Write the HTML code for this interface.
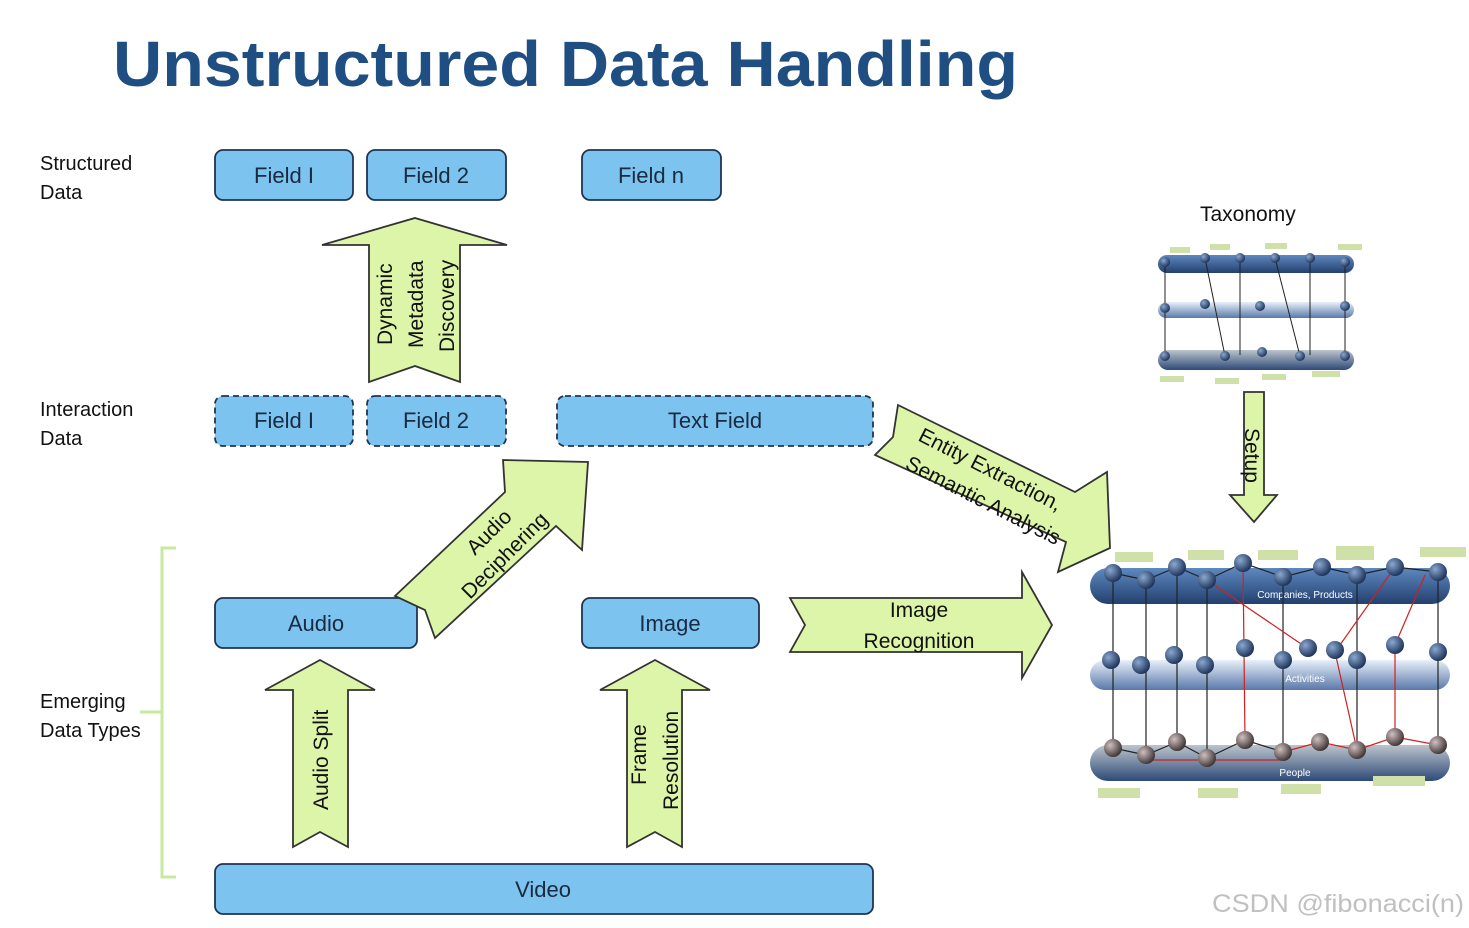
<!DOCTYPE html>
<html><head><meta charset="utf-8"><style>
html,body{margin:0;padding:0;background:#fff}
svg{display:block}
text{font-family:"Liberation Sans",sans-serif}
</style></head><body>
<svg width="1469" height="928" viewBox="0 0 1469 928" xmlns="http://www.w3.org/2000/svg">
<defs>
<linearGradient id="disk" x1="0" y1="0" x2="0" y2="1"><stop offset="0" stop-color="#5e88c0"/><stop offset="1" stop-color="#23406e"/></linearGradient>
<linearGradient id="disk2" x1="0" y1="0" x2="0" y2="1"><stop offset="0" stop-color="#e8f0fa"/><stop offset="1" stop-color="#5a78a8"/></linearGradient>
<linearGradient id="disk3" x1="0" y1="0" x2="0" y2="1"><stop offset="0" stop-color="#bcc4cc"/><stop offset="1" stop-color="#2e4a78"/></linearGradient>
<radialGradient id="ball" cx="0.35" cy="0.35" r="0.7"><stop offset="0" stop-color="#8aa8d0"/><stop offset="1" stop-color="#1a2f55"/></radialGradient>
<radialGradient id="ballr" cx="0.35" cy="0.35" r="0.7"><stop offset="0" stop-color="#d0c0c0"/><stop offset="1" stop-color="#3a3030"/></radialGradient>
</defs>

<text x="113" y="86" font-size="64" font-weight="bold" fill="#1f4e82" textLength="905" lengthAdjust="spacingAndGlyphs">Unstructured Data Handling</text>

<g font-size="20" fill="#111">
<text x="40" y="170">Structured</text><text x="40" y="199">Data</text>
<text x="40" y="416">Interaction</text><text x="40" y="445">Data</text>
<text x="40" y="708">Emerging</text><text x="40" y="737">Data Types</text>
</g>
<path d="M176 548 H162 V877 H176 M162 712 H140" fill="none" stroke="#c8eaa0" stroke-width="3"/>

<g fill="#7cc3ef" stroke="#1f3550" stroke-width="1.8">
<rect x="215" y="150" width="138" height="50" rx="8"/>
<rect x="367" y="150" width="139" height="50" rx="8"/>
<rect x="582" y="150" width="139" height="50" rx="8"/>
<rect x="215" y="598" width="202" height="50" rx="8"/>
<rect x="582" y="598" width="177" height="50" rx="8"/>
<rect x="215" y="864" width="658" height="50" rx="8"/>
<g stroke-dasharray="6,4">
<rect x="215" y="396" width="138" height="50" rx="8"/>
<rect x="367" y="396" width="139" height="50" rx="8"/>
<rect x="557" y="396" width="316" height="50" rx="8"/>
</g></g>
<g font-size="22" fill="#1a2a40" text-anchor="middle">
<text x="284" y="183">Field I</text><text x="436" y="183">Field 2</text><text x="651" y="183">Field n</text>
<text x="284" y="428">Field I</text><text x="436" y="428">Field 2</text><text x="715" y="428">Text Field</text>
<text x="316" y="631">Audio</text><text x="670" y="631">Image</text><text x="543" y="897">Video</text>
</g>

<g fill="#ddf5a8" stroke="#333" stroke-width="1.8">
<polygon points="415,218 507,245 460,245 460,382 415,366 369,382 369,245 322,245"/>
<polygon points="320,660 375,690 348,690 348,847 320,832 293,847 293,690 265,690"/>
<polygon points="655,660 710,690 682,690 682,847 655,832 627,847 627,690 600,690"/>
<polygon points="395,596 505,492 503,460 588,462 582,550 556,526 435,638 425,610"/>
<polygon points="898,405 1075,492 1107,472 1110,548 1058,572 1066,542 875,455 893,437"/>
<polygon points="790,598 1022,598 1022,572 1052,625 1022,678 1022,652 790,652 805,625"/>
<polygon points="1244,392 1264,392 1264,495 1277,495 1254,522 1230,495 1244,495"/>
</g>
<g font-size="21" fill="#111">
<text transform="translate(392,345) rotate(-90)">Dynamic</text>
<text transform="translate(423,348) rotate(-90)">Metadata</text>
<text transform="translate(454,352) rotate(-90)">Discovery</text>
<text transform="translate(328,810) rotate(-90)">Audio Split</text>
<text transform="translate(646,785) rotate(-90)">Frame</text>
<text transform="translate(678,810) rotate(-90)">Resolution</text>
<text transform="translate(475,556) rotate(-45)">Audio</text>
<text transform="translate(470,600) rotate(-45)">Deciphering</text>
<text transform="translate(917,440) rotate(27)">Entity Extraction,</text>
<text transform="translate(904,468) rotate(27)">Semantic Analysis</text>
<text x="919" y="617" text-anchor="middle">Image</text>
<text x="919" y="648" text-anchor="middle">Recognition</text>
<text transform="translate(1245,428) rotate(90)">Setup</text>
<text x="1200" y="221">Taxonomy</text>
</g>

<g>
<rect x="1158" y="255" width="196" height="18" rx="9" fill="url(#disk)"/>
<rect x="1158" y="302" width="196" height="16" rx="8" fill="url(#disk2)"/>
<rect x="1158" y="350" width="196" height="20" rx="10" fill="url(#disk3)"/>
<g stroke="#222" stroke-width="1">
<line x1="1165" y1="262" x2="1165" y2="358"/><line x1="1205" y1="258" x2="1225" y2="356"/><line x1="1240" y1="258" x2="1240" y2="355"/><line x1="1275" y1="258" x2="1300" y2="356"/><line x1="1310" y1="258" x2="1310" y2="355"/><line x1="1345" y1="262" x2="1345" y2="356"/>
</g>
<g fill="url(#ball)">
<circle cx="1165" cy="262" r="5"/><circle cx="1205" cy="258" r="5"/><circle cx="1240" cy="258" r="5"/><circle cx="1275" cy="258" r="5"/><circle cx="1310" cy="258" r="5"/><circle cx="1345" cy="262" r="5"/>
<circle cx="1165" cy="308" r="5"/><circle cx="1205" cy="304" r="5"/><circle cx="1260" cy="306" r="5"/><circle cx="1345" cy="306" r="5"/>
<circle cx="1165" cy="356" r="5"/><circle cx="1225" cy="356" r="5"/><circle cx="1262" cy="352" r="5"/><circle cx="1300" cy="356" r="5"/><circle cx="1345" cy="356" r="5"/>
</g>
<g fill="#cfe0a8"><rect x="1170" y="247" width="20" height="6"/><rect x="1210" y="244" width="20" height="6"/><rect x="1265" y="243" width="22" height="6"/><rect x="1338" y="244" width="24" height="6"/><rect x="1160" y="376" width="24" height="6"/><rect x="1215" y="378" width="24" height="6"/><rect x="1262" y="374" width="24" height="6"/><rect x="1312" y="371" width="28" height="6"/></g>
</g>

<g>
<rect x="1090" y="568" width="360" height="36" rx="18" fill="url(#disk)"/>
<rect x="1090" y="660" width="360" height="30" rx="15" fill="url(#disk2)"/>
<rect x="1090" y="745" width="360" height="36" rx="18" fill="url(#disk3)"/>
<text x="1305" y="598" font-size="10" fill="#fff" text-anchor="middle">Companies, Products</text>
<text x="1305" y="682" font-size="10" fill="#fff" text-anchor="middle">Activities</text>
<text x="1295" y="776" font-size="10" fill="#fff" text-anchor="middle">People</text>
<g stroke="#222" stroke-width="1.2" fill="none">
<polyline points="1113,573 1146,580 1177,567 1207,580 1243,563 1283,577 1322,567 1357,575 1395,567 1438,572"/>
<line x1="1113" y1="573" x2="1113" y2="748"/><line x1="1146" y1="580" x2="1146" y2="755"/><line x1="1177" y1="567" x2="1177" y2="742"/><line x1="1207" y1="580" x2="1207" y2="758"/><line x1="1283" y1="577" x2="1283" y2="752"/><line x1="1357" y1="575" x2="1357" y2="750"/><line x1="1438" y1="572" x2="1438" y2="745"/>
<polyline points="1113,748 1146,755 1177,742 1207,758 1245,740 1283,752"/>
</g>
<g stroke="#d02020" stroke-width="1.2" fill="none">
<line x1="1243" y1="563" x2="1245" y2="740"/><line x1="1207" y1="580" x2="1310" y2="650"/><line x1="1395" y1="567" x2="1335" y2="652"/><line x1="1425" y1="575" x2="1395" y2="645"/>
<polyline points="1283,752 1320,742 1357,750 1395,737 1438,745"/><line x1="1395" y1="645" x2="1395" y2="737"/><line x1="1335" y1="652" x2="1357" y2="750"/>
<line x1="1146" y1="760" x2="1283" y2="760"/>
</g>
<g fill="url(#ball)">
<circle cx="1113" cy="573" r="9"/><circle cx="1146" cy="580" r="9"/><circle cx="1177" cy="567" r="9"/><circle cx="1207" cy="580" r="9"/><circle cx="1243" cy="563" r="9"/><circle cx="1283" cy="577" r="9"/><circle cx="1322" cy="567" r="9"/><circle cx="1357" cy="575" r="9"/><circle cx="1395" cy="567" r="9"/><circle cx="1438" cy="572" r="9"/>
<circle cx="1111" cy="660" r="9"/><circle cx="1141" cy="665" r="9"/><circle cx="1174" cy="655" r="9"/><circle cx="1205" cy="665" r="9"/><circle cx="1245" cy="648" r="9"/><circle cx="1283" cy="660" r="9"/><circle cx="1308" cy="648" r="9"/><circle cx="1335" cy="650" r="9"/><circle cx="1357" cy="660" r="9"/><circle cx="1395" cy="645" r="9"/><circle cx="1438" cy="652" r="9"/>
</g>
<g fill="url(#ballr)">
<circle cx="1113" cy="748" r="9"/><circle cx="1146" cy="755" r="9"/><circle cx="1177" cy="742" r="9"/><circle cx="1207" cy="758" r="9"/><circle cx="1245" cy="740" r="9"/><circle cx="1283" cy="752" r="9"/><circle cx="1320" cy="742" r="9"/><circle cx="1357" cy="750" r="9"/><circle cx="1395" cy="737" r="9"/><circle cx="1438" cy="745" r="9"/>
</g>
<g fill="#cfe0a8"><rect x="1115" y="552" width="38" height="10"/><rect x="1188" y="550" width="36" height="10"/><rect x="1258" y="550" width="40" height="10"/><rect x="1336" y="546" width="38" height="14"/><rect x="1420" y="547" width="46" height="10"/><rect x="1098" y="788" width="42" height="10"/><rect x="1198" y="788" width="40" height="10"/><rect x="1281" y="784" width="40" height="10"/><rect x="1373" y="776" width="52" height="10"/></g>
</g>

<text x="1212" y="912" font-size="25" fill="#c0c0c0" textLength="252" lengthAdjust="spacingAndGlyphs">CSDN @fibonacci(n)</text>
</svg>
</body></html>
